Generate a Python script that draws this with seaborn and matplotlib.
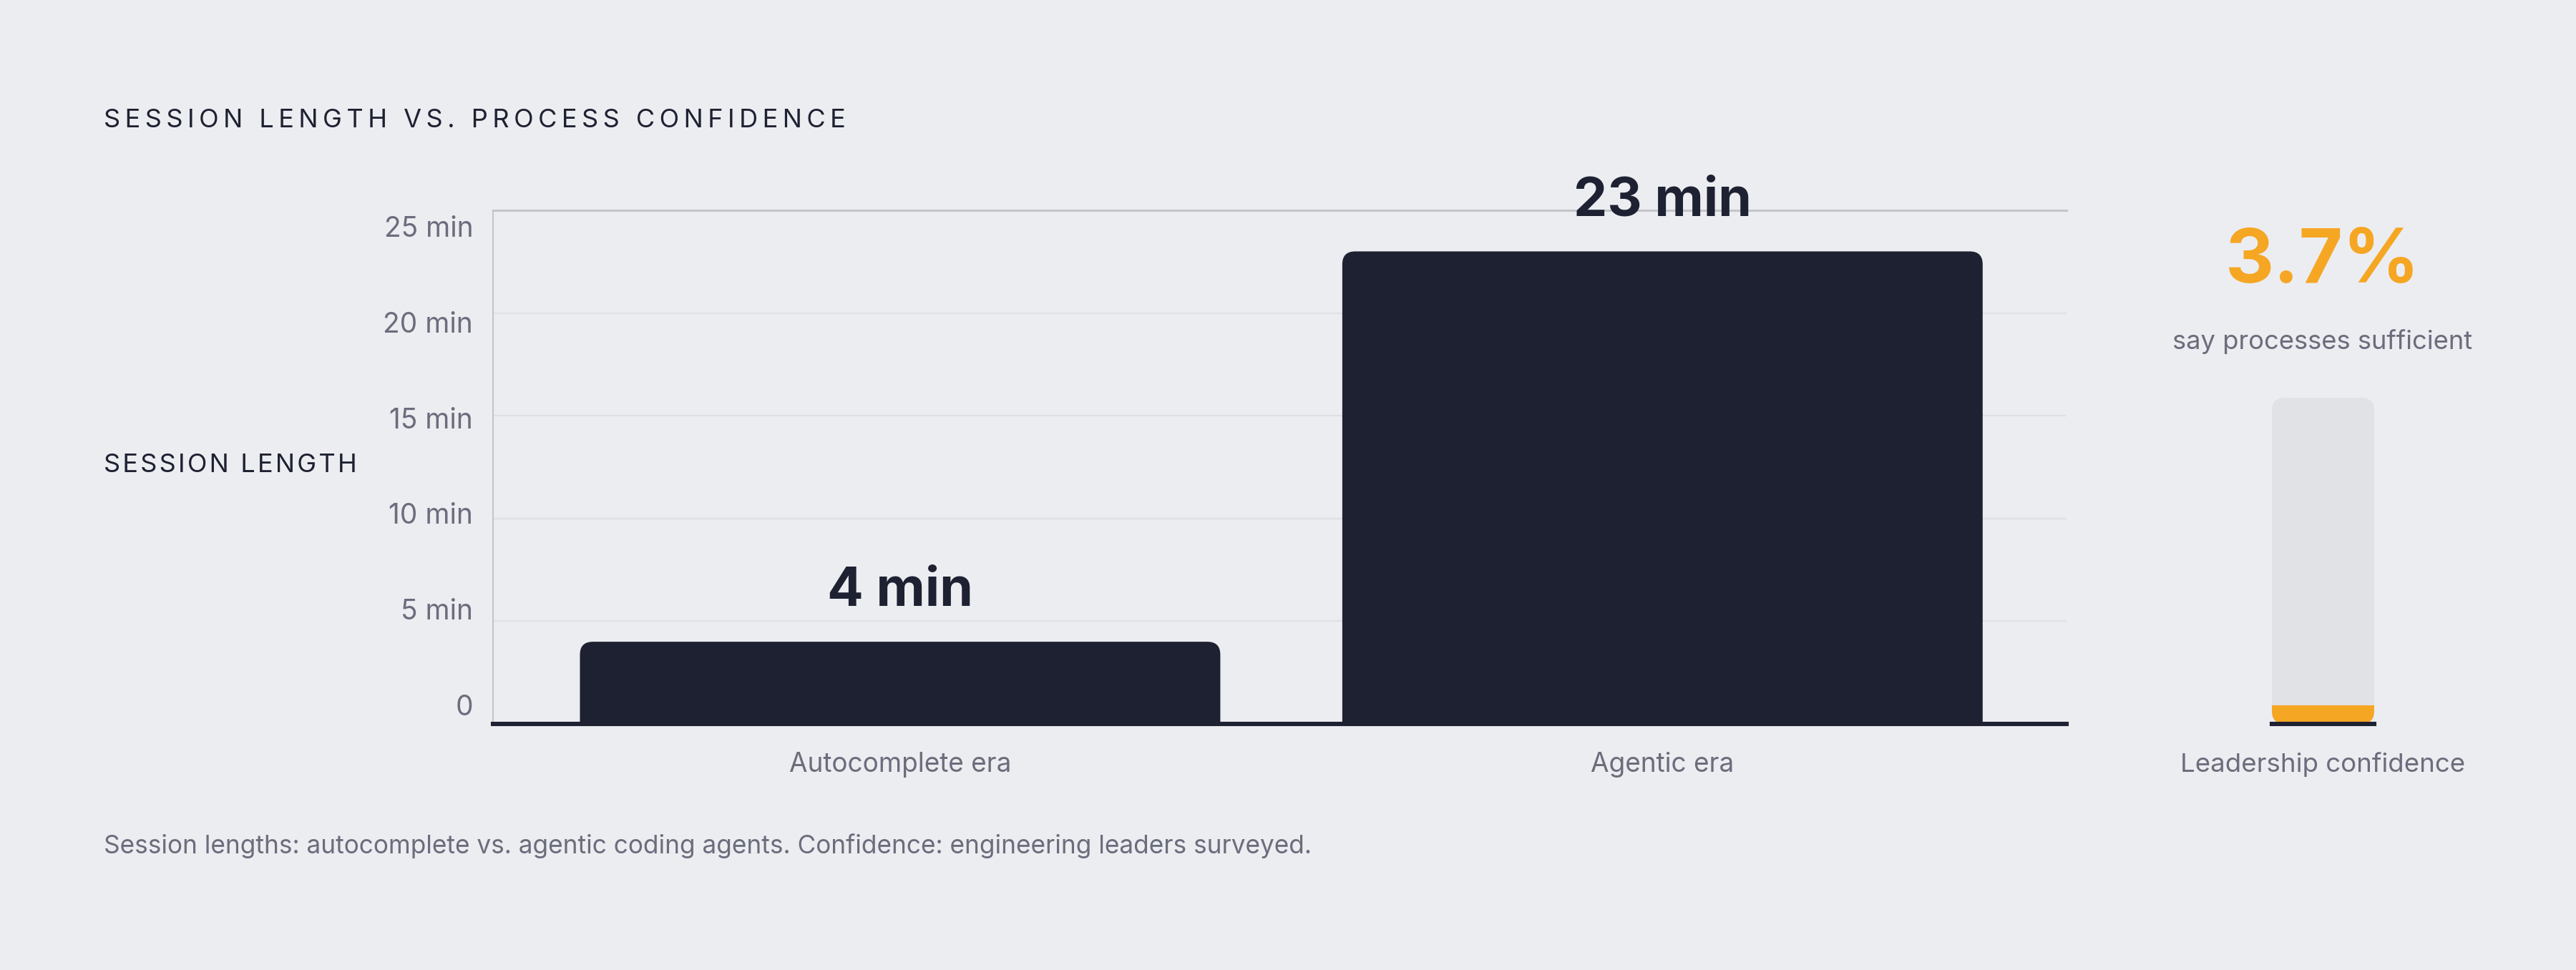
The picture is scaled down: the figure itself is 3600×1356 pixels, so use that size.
import matplotlib
matplotlib.use("Agg")
import matplotlib.pyplot as plt
from matplotlib.patches import FancyBboxPatch
import seaborn as sns

# ------------------------------------------------------
# DATA
# ------------------------------------------------------
categories = ["Autocomplete era", "Agentic era"]
session_minutes = [4, 23]
bar_labels = ["4 min", "23 min"]
y_ticks = [0, 5, 10, 15, 20, 25]
y_tick_labels = ["0", "5 min", "10 min", "15 min", "20 min", "25 min"]
confidence_pct = [3.7]
confidence_cat = ["Leadership confidence"]

# ------------------------------------------------------
# STYLE
# ------------------------------------------------------
BG = "#ecedf1"
INK = "#1e2131"
MUTED = "#6b6d7c"
ORANGE = "#f5a623"
TRACK = "#e1e2e6"
GRID = "#dfe0e5"
SPINE = "#c4c5cb"
MIN_FILL_PX = 26  # gauge fill never thinner than this (like a css min-height)

W, H, DPI = 18, 6.78, 200
FW, FH = W * DPI, H * DPI

sns.set_theme(style="white")
plt.rcParams["font.family"] = ["Inter", "DejaVu Sans"]


def fx(x):
    return x / FW


def fy(y):
    return 1 - y / FH


def spaced(s, gap="\u2009"):
    return gap.join(s)


def units_per_px(ax):
    bb = ax.get_position()
    x0, x1 = ax.get_xlim()
    y0, y1 = ax.get_ylim()
    return (x1 - x0) / (bb.width * FW), (y1 - y0) / (bb.height * FH)


def round_patch(ax, x, y, w, h, r_px, **kw):
    xpp, ypp = units_per_px(ax)
    p = FancyBboxPatch((x, y), w, h,
                       boxstyle=f"round,pad=0,rounding_size={r_px * xpp}",
                       mutation_aspect=ypp / xpp, **kw)
    ax.add_patch(p)
    return p


fig = plt.figure(figsize=(W, H), dpi=DPI, facecolor=BG)

# ------------------------------------------------------
# MAIN BAR CHART
# ------------------------------------------------------
ax = fig.add_axes([fx(689), fy(1012), fx(2888 - 689), (1012 - 294) / FH])
ax.set_facecolor("none")
sns.barplot(x=categories, y=session_minutes, color=INK, width=0.84,
            saturation=1, ax=ax)
ax.set_xlim(-0.534, 1.53)
ax.set_ylim(0, 25)
_, ypp = units_per_px(ax)

for bar, lab in zip(list(ax.patches), bar_labels):
    x, w, h = bar.get_x(), bar.get_width(), bar.get_height()
    bar.set_visible(False)
    # start below the axis so only the top corners look rounded
    round_patch(ax, x, -18 * ypp, w, h + 18 * ypp, 18, color=INK, lw=0)
    ax.annotate(lab, (x + w / 2, h), xytext=(0, 18), textcoords="offset points",
                ha="center", va="baseline", fontsize=27, fontweight="bold",
                color=INK, annotation_clip=False, zorder=5)

for v in y_ticks[1:-1]:
    ax.axhline(v, color=GRID, lw=0.8, zorder=0)

# tick labels sit in an evenly spaced column slightly inside the grid range
label_pos = [0.94 + v * (24.2 - 0.94) / 25 for v in y_ticks]
ax.set_yticks(label_pos, y_tick_labels)
ax.tick_params(axis="y", length=0, pad=10, labelsize=14, labelcolor=MUTED)
ax.tick_params(axis="x", length=0, pad=14, labelsize=13.3, labelcolor=MUTED)
ax.set_xlabel("")
ax.set_ylabel("")
ax.grid(False)

ax.spines["right"].set_visible(False)
ax.spines["left"].set_color(SPINE)
ax.spines["left"].set_linewidth(0.75)
ax.spines["top"].set_color(SPINE)
ax.spines["top"].set_linewidth(1.1)
ax.spines["bottom"].set_color(INK)
ax.spines["bottom"].set_linewidth(2.2)

# ------------------------------------------------------
# CONFIDENCE GAUGE
# ------------------------------------------------------
ax2 = fig.add_axes([fx(3175), fy(1012), fx(143), (1012 - 556) / FH])
ax2.set_facecolor("none")
sns.barplot(x=confidence_cat, y=confidence_pct, color=ORANGE, width=1,
            saturation=1, ax=ax2)
ax2.set_xlim(-0.5, 0.5)
ax2.set_ylim(0, 100)
_, ypp2 = units_per_px(ax2)
track = round_patch(ax2, -0.5, 0, 1, 100, 18, color=TRACK, lw=0, zorder=0)
for bar in ax2.patches:
    if bar is not track:
        bar.set_height(max(bar.get_height(), MIN_FILL_PX * ypp2))
        bar.set_linewidth(0)
        bar.set_clip_path(track)
        bar.set_zorder(1)
ax2.set_yticks([])
ax2.set_xlabel("")
ax2.set_ylabel("")
ax2.tick_params(axis="x", length=0, pad=14, labelsize=13.2, labelcolor=MUTED)
for s in ["left", "right", "top"]:
    ax2.spines[s].set_visible(False)
ax2.spines["bottom"].set_color(INK)
ax2.spines["bottom"].set_linewidth(2.2)

fig.text(fx(3246), fy(367), f"{confidence_pct[0]}%", ha="center", va="center",
         fontsize=38, fontweight="bold", color=ORANGE)
fig.text(fx(3246), fy(478), "say processes sufficient", ha="center", va="center",
         fontsize=13.1, color=MUTED)

# ------------------------------------------------------
# TEXT
# ------------------------------------------------------
fig.text(fx(145), fy(168), spaced("SESSION LENGTH VS. PROCESS CONFIDENCE"),
         ha="left", va="center", fontsize=13, color=INK)
fig.text(fx(145), fy(650), spaced("SESSION LENGTH", "\u200a"),
         ha="left", va="center", fontsize=13, color=INK)
fig.text(fx(145), fy(1183),
         "Session lengths: autocomplete vs. agentic coding agents. "
         "Confidence: engineering leaders surveyed.",
         ha="left", va="center", fontsize=12.7, color=MUTED)

fig.savefig("out.png", dpi=DPI, facecolor=BG)
